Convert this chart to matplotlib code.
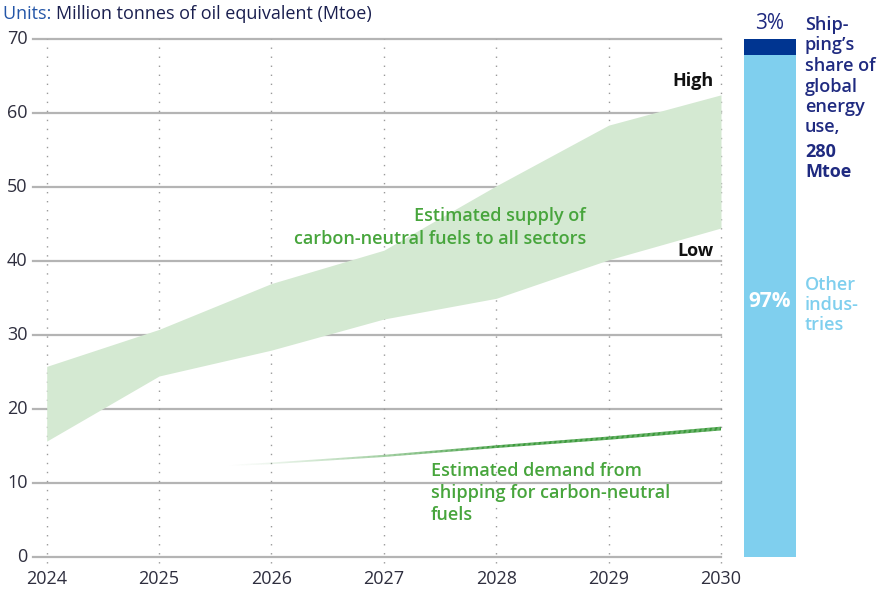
import numpy as np
import matplotlib
matplotlib.use("Agg")
import matplotlib.pyplot as plt
from matplotlib.collections import LineCollection

# ---- data -------------------------------------------------------------
years = [2024, 2025, 2026, 2027, 2028, 2029, 2030]
supply_high = [25.8, 30.8, 37.0, 41.5, 50.2, 58.4, 62.5]
supply_low = [15.7, 24.5, 28.0, 32.2, 35.0, 40.2, 44.5]

demand_years = [2025.6, 2026, 2027, 2028, 2029, 2030]
demand = [12.4, 12.7, 13.7, 14.95, 16.1, 17.4]

share_labels = ["Other industries", "Shipping"]
share_values = [97, 3]

y_ticks = [0, 10, 20, 30, 40, 50, 60, 70]

# ---- styling ----------------------------------------------------------
W, H = 878, 591
FONT = ["Open Sans", "DejaVu Sans"]
plt.rcParams["font.family"] = FONT
FS = 13

GRID = "#b4b4b4"
BAND = "#d4e9d2"
GREEN_LINE = "#3b9a3b"
GREEN_TEXT = "#47a53c"
NAVY = "#1f2a80"
DARK_BAR = "#003591"
LIGHT_BAR = "#7fcfee"
TICK_TXT = "#2e2e3e"


def fx(px):
    return px / W


def fy(py):
    return 1 - py / H


fig = plt.figure(figsize=(W / 100, H / 100), dpi=100)

# main axes: years on x, Mtoe on y
ax_left, ax_right = 33, 721
y0_px, y70_px = 557.3, 39.3
ppu = (y0_px - y70_px) / 70.0
ylo, yhi = -0.8, 70.3
ax = fig.add_axes([fx(ax_left), (H - (y0_px - ylo * ppu)) / H,
                   (ax_right - ax_left) / W, (yhi - ylo) * ppu / H])
x_per_year = (ax_right - 46.7) / 6.0
ax.set_xlim(2024 - (46.7 - ax_left) / x_per_year, 2030)
ax.set_ylim(ylo, yhi)
ax.axis("off")

# horizontal grid
for t in y_ticks:
    ax.axhline(t, color=GRID, lw=1.6, zorder=1, clip_on=False)
    ax.text(-0.008, t, str(t), transform=ax.get_yaxis_transform(),
            ha="right", va="center", fontsize=FS, color=TICK_TXT)

# dotted year guides
for yr in years:
    ax.plot([yr, yr], [ylo, 70], color="#9a9a9a", lw=1.0,
            ls=(0, (1, 5.5)), zorder=1, clip_on=False)
    ax.text(yr, -3.0, str(yr), ha="center", va="center",
            fontsize=FS, color=TICK_TXT)

# supply band
ax.fill_between(years, supply_low, supply_high, color=BAND, lw=0, zorder=2)

# demand line fading in from the left, tapering thickness
xs = np.linspace(demand_years[0], demand_years[-1], 400)
ys = np.interp(xs, demand_years, demand)
pts = np.column_stack([xs, ys]).reshape(-1, 1, 2)
segs = np.concatenate([pts[:-1], pts[1:]], axis=1)
frac = np.clip((xs[:-1] - demand_years[0]) / (2028.0 - demand_years[0]), 0, 1)
rgb = matplotlib.colors.to_rgb(GREEN_LINE)
cols = [(rgb[0], rgb[1], rgb[2], f ** 1.3) for f in frac]
widths = 1.0 + 1.7 * np.clip((xs[:-1] - demand_years[0]) / (demand_years[-1] - demand_years[0]), 0, 1)
lc = LineCollection(segs, colors=cols, linewidths=widths, capstyle="butt", zorder=3)
ax.add_collection(lc)

# annotations inside the chart
fig.text(fx(714), fy(81), "High", ha="right", va="center", fontsize=FS,
         fontweight="bold", color="#111111")
fig.text(fx(714), fy(251), "Low", ha="right", va="center", fontsize=FS,
         fontweight="bold", color="#111111")
fig.text(fx(586), fy(227.5), "Estimated supply of\ncarbon-neutral fuels to all sectors",
         ha="right", va="center", fontsize=FS, fontweight="semibold",
         color=GREEN_TEXT, linespacing=1.3)
fig.text(fx(431), fy(493), "Estimated demand from\nshipping for carbon-neutral\nfuels",
         ha="left", va="center", fontsize=FS, fontweight="semibold",
         color=GREEN_TEXT, linespacing=1.28)

# units header
t1 = fig.text(fx(3), fy(14), "Units: ", ha="left", va="center", fontsize=FS,
              color="#2456a8")
fig.canvas.draw()
bb = t1.get_window_extent()
fig.text(bb.x1 / W, fy(14), "Million tonnes of oil equivalent (Mtoe)", ha="left",
         va="center", fontsize=FS, fontweight="medium", color="#1a1f4f")

# share bar
bar_left, bar_right = 744, 796
bax = fig.add_axes([fx(bar_left), (H - y0_px) / H,
                    (bar_right - bar_left) / W, (y0_px - y70_px) / H])
bax.set_xlim(-0.5, 0.5)
bax.set_ylim(0, 100)
bax.axis("off")
bottom = 0
for lab, val, col in zip(share_labels, share_values, [LIGHT_BAR, DARK_BAR]):
    bax.bar(0, val, width=1.0, bottom=bottom, color=col, lw=0)
    bottom += val

bax.text(0, 49.3, f"{share_values[0]}%", ha="center", va="center",
         fontsize=15, fontweight="bold", color="white")
bax.text(0, 100 + 1.0, f"{share_values[1]}%", ha="center", va="bottom",
         fontsize=15, color=NAVY)

lines = ["Ship-", "ping\u2019s", "share of", "global", "energy", "use,"]
for i, s in enumerate(lines):
    fig.text(fx(805), fy(25 + i * 20.5), s, ha="left", va="center",
             fontsize=FS, fontweight="semibold", color=NAVY)
for i, s in enumerate(["280", "Mtoe"]):
    fig.text(fx(805), fy(152 + i * 20.5), s, ha="left", va="center",
             fontsize=FS, fontweight="bold", color=NAVY)
for i, s in enumerate(["Other", "indus-", "tries"]):
    fig.text(fx(805), fy(285 + i * 20), s, ha="left", va="center",
             fontsize=FS, fontweight="semibold", color=LIGHT_BAR)

fig.savefig("out.png", dpi=100, facecolor="white")
